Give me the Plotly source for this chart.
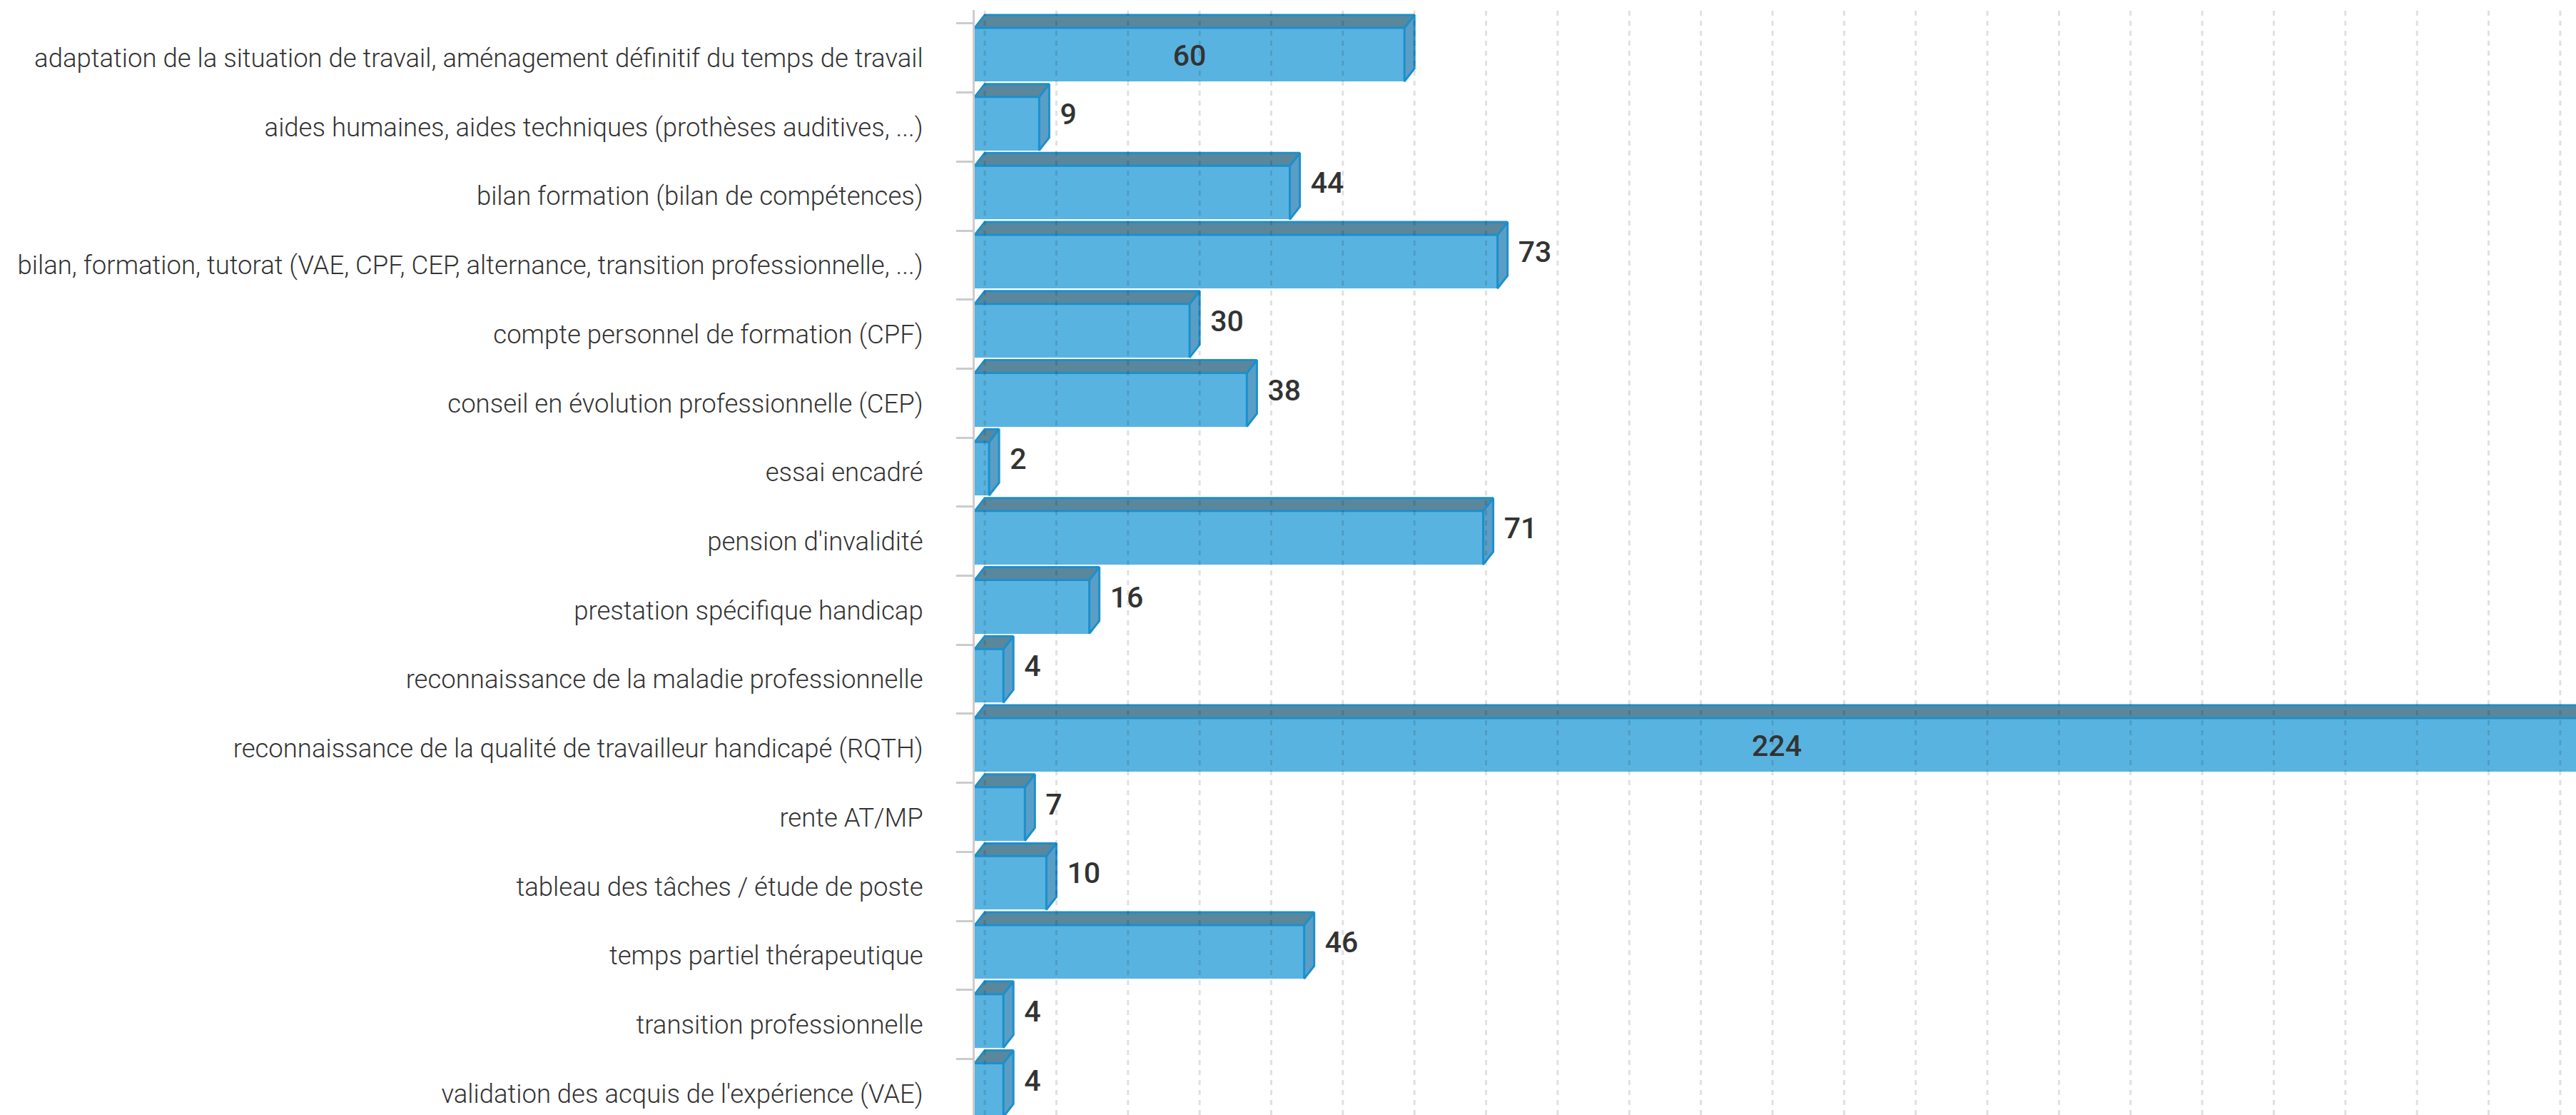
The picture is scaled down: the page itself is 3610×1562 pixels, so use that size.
import plotly.graph_objects as go

CATEGORIES = [
    "adaptation de la situation de travail, aménagement définitif du temps de travail",
    "aides humaines, aides techniques (prothèses auditives, ...)",
    "bilan formation (bilan de compétences)",
    "bilan, formation, tutorat (VAE, CPF, CEP, alternance, transition professionnelle, ...)",
    "compte personnel de formation (CPF)",
    "conseil en évolution professionnelle (CEP)",
    "essai encadré",
    "pension d'invalidité",
    "prestation spécifique handicap",
    "reconnaissance de la maladie professionnelle",
    "reconnaissance de la qualité de travailleur handicapé (RQTH)",
    "rente AT/MP",
    "tableau des tâches / étude de poste",
    "temps partiel thérapeutique",
    "transition professionnelle",
    "validation des acquis de l'expérience (VAE)",
]
VALUES = [60, 9, 44, 73, 30, 38, 2, 71, 16, 4, 224, 7, 10, 46, 4, 4]
INSIDE_LABEL_VALUES = [60, 224]
GRID_TICKS = list(range(0, 230, 10))

# ---- style constants ----
FRONT = "#59b3e0"
TOP = "#5a879c"
SIDE = "#5a9ec6"
EDGE = "#1b90cd"
BAR_W = 0.776
BAR_OFF = -0.438
DX = 1.4      # depth in value units
DY = 0.186    # depth in category units
LABEL_FONT = "Roboto, Liberation Sans, sans-serif"

pos = list(range(len(CATEGORIES)))

fig = go.Figure()

# front faces
fig.add_trace(go.Bar(
    x=VALUES, y=pos, orientation="h", width=BAR_W, offset=BAR_OFF,
    marker=dict(color=FRONT, line=dict(width=0)),
    hoverinfo="skip", showlegend=False,
))

# top faces and side faces
tx, ty, sx, sy = [], [], [], []
for c, v in zip(pos, VALUES):
    top = c + BAR_OFF
    bot = top + BAR_W
    tx += [0, v, v + DX, DX, 0, None]
    ty += [top, top, top - DY, top - DY, top, None]
    sx += [v, v + DX, v + DX, v, v, None]
    sy += [top, top - DY, bot - DY, bot, top, None]

fig.add_trace(go.Scatter(x=sx, y=sy, mode="lines", fill="toself", fillcolor=SIDE,
                         line=dict(color=EDGE, width=3), hoverinfo="skip", showlegend=False))
fig.add_trace(go.Scatter(x=tx, y=ty, mode="lines", fill="toself", fillcolor=TOP,
                         line=dict(color=EDGE, width=3), hoverinfo="skip", showlegend=False))

# value labels
lx, ly, lp = [], [], []
for c, v in zip(pos, VALUES):
    if v in INSIDE_LABEL_VALUES:
        lx.append(v / 2); ly.append(c); lp.append("middle center")
    else:
        lx.append(v + DX + 1.5); ly.append(c - 0.15); lp.append("middle right")
fig.add_trace(go.Scatter(
    x=lx, y=ly, mode="text", text=[str(v) for v in VALUES], textposition=lp,
    textfont=dict(family=LABEL_FONT, size=41, color="#333333", weight=500),
    hoverinfo="skip", showlegend=False, cliponaxis=False,
))

# dashed gridlines on the back wall (drawn above bars, translucent)
for t in GRID_TICKS:
    fig.add_shape(type="line", xref="x", yref="paper", x0=t + DX, x1=t + DX, y0=0, y1=1,
                  layer="above", line=dict(color="rgba(0,0,0,0.12)", width=3, dash="7px,7px"))

fig.update_layout(
    width=3610, height=1562, autosize=False,
    margin=dict(l=1366, r=0, t=14, b=0, pad=0),
    paper_bgcolor="white", plot_bgcolor="white",
    bargap=0,
    xaxis=dict(range=[0, 223.6], showgrid=False, zeroline=False, showline=False,
               showticklabels=False, ticks="", automargin=False),
    yaxis=dict(range=[15.312, -0.696], tickmode="array", tickvals=pos, ticktext=CATEGORIES,
               ticks="", showgrid=False, zeroline=False, automargin=False,
               showline=True, linecolor="#cccccc", linewidth=3,
               tickfont=dict(family=LABEL_FONT, size=36.5, color="#333333", weight=300),
               ticklabelstandoff=62,
               minor=dict(tickmode="array", tickvals=[p - 0.5 for p in pos], ticks="outside",
                          ticklen=23, tickwidth=3, tickcolor="#cccccc", showgrid=False)),
)

fig.write_html("out.html")
